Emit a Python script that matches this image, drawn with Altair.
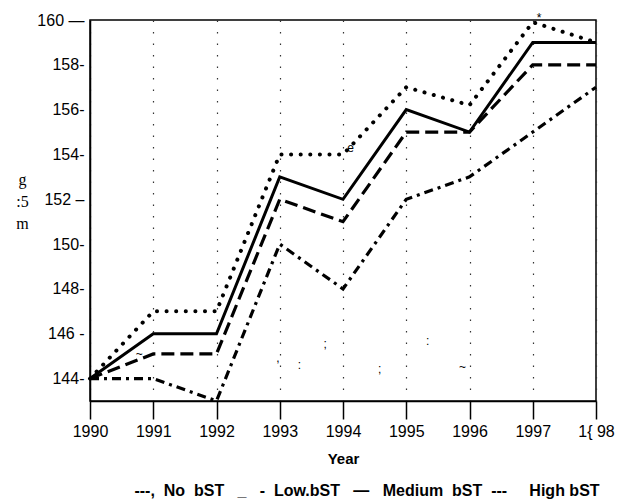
import altair as alt
import pandas as pd

years = [1990, 1991, 1992, 1993, 1994, 1995, 1996, 1997, 1998]
no_bst = [144, 144, 143, 150, 148, 152, 153, 155, 157]
low_bst = [144, 145.1, 145.1, 152, 151, 155, 155, 158, 158]
medium_bst = [144, 146, 146, 153, 152, 156, 155, 159, 159]
high_bst = [144, 147, 147, 154, 154, 157, 156.2, 159.9, 159]

series_names = ["No bST", "Low bST", "Medium bST", "High bST"]
series_values = [no_bst, low_bst, medium_bst, high_bst]

NB = "\u00a0"
y_ticks = [144, 146, 148, 150, 152, 154, 156, 158, 160]
y_tick_labels = ["144-", "146 -", "148-", "150-", "152 \u2013", "154-", "156-", "158-", "160 \u2014"]
x_tick_labels = ["1990", "1991", "1992", "1993", "1994", "1995", "1996", "1997", "1{ 98"]

# stray scan marks present in the reference
noise_text = ["e", "*", "~", ";", ",", ":", ";", ":", "~"]
noise_x = [1994.12, 1997.1, 1990.78, 1993.72, 1992.97, 1993.31, 1994.58, 1995.34, 1995.89]
noise_y = [154.3, 160.1, 145.1, 145.56, 144.9, 144.6, 144.44, 145.66, 144.5]

legend_text = ("---," + NB * 2 + "No" + NB * 2 + "bST" + NB * 3 + "_" + NB * 3 + "-" + NB * 2 +
               "Low.bST" + NB * 3 + "\u2014" + NB * 3 + "Medium" + NB * 2 + "bST" + NB * 2 +
               "---" + NB * 5 + "High" + NB + "bST")

rows = []
for name, vals in zip(series_names, series_values):
    for yr, v in zip(years, vals):
        rows.append({"Year": yr, "Value": v, "Series": name})
df = pd.DataFrame(rows)
noise_df = pd.DataFrame({"Year": noise_x, "Value": noise_y, "t": noise_text})


def expr_map(keys, labels):
    parts = [f"datum.value == {k} ? '{l}'" for k, l in zip(keys, labels)]
    return " : ".join(parts) + " : datum.label"


x_scale = alt.Scale(domain=[1990, 1998], nice=False, zero=False)
y_scale = alt.Scale(domain=[143, 160], nice=False, zero=False)

x_axis = alt.Axis(values=years, format="d", labelExpr=expr_map(years, x_tick_labels),
                  tickSize=18, tickColor="black", tickWidth=1.5, domainColor="black",
                  domainWidth=1.5, labelFontSize=16, labelColor="black", labelPadding=4,
                  labelFlush=False, labelOverlap=False,
                  title="Year", titleFontSize=15, titleFontWeight="bold", titleColor="black",
                  titlePadding=12, grid=True, gridDash=[1.5, 10], gridColor="#333333",
                  gridWidth=1.2)
y_axis = alt.Axis(values=y_ticks, labelExpr=expr_map(y_ticks, y_tick_labels),
                  ticks=False,
                  domainColor="black", domainWidth=1.5, labelFontSize=16, labelColor="black",
                  labelPadding=6, labelOverlap=False, labelFlush=False, grid=False,
                  title=["g", ":5", "m"], titleAngle=0, titleX=-68, titleY=151,
                  titleAlign="center", titleBaseline="top", titleFont="Liberation Serif",
                  titleFontSize=16, titleFontWeight="normal", titleColor="black",
                  titleLineHeight=22)

X = alt.X("Year:Q", scale=x_scale, axis=x_axis)
Y = alt.Y("Value:Q", scale=y_scale, axis=y_axis)

base = alt.Chart(df)

styles = {
    "No bST": dict(strokeDash=[9, 5, 3, 5], strokeWidth=3.2, strokeCap="butt"),
    "Low bST": dict(strokeDash=[13, 6], strokeWidth=3.2, strokeCap="butt"),
    "Medium bST": dict(strokeWidth=3, strokeCap="butt"),
    "High bST": dict(strokeDash=[0.1, 9.5], strokeWidth=4, strokeCap="round"),
}

layers = []
for name in series_names:
    layers.append(
        base.transform_filter(alt.datum.Series == name)
        .mark_line(color="black", **styles[name])
        .encode(x=X, y=Y)
    )

noise = alt.Chart(noise_df).mark_text(fontSize=12, color="black").encode(
    x=X, y=Y, text="t:N",
)

chart = alt.layer(*layers, noise).properties(
    width=506,
    height=381,
    autosize=alt.AutoSizeParams(type="none"),
    padding={"left": 82, "top": 12, "right": 22, "bottom": 102},
    title=alt.TitleParams(legend_text, orient="bottom", anchor="middle", fontSize=16,
                          fontWeight="bold", color="black", offset=17, dx=24),
).configure(font="Liberation Sans").configure_view(stroke="black", strokeWidth=1.5)

chart.save("out.html", embed_options={"renderer": "svg", "actions": False})
